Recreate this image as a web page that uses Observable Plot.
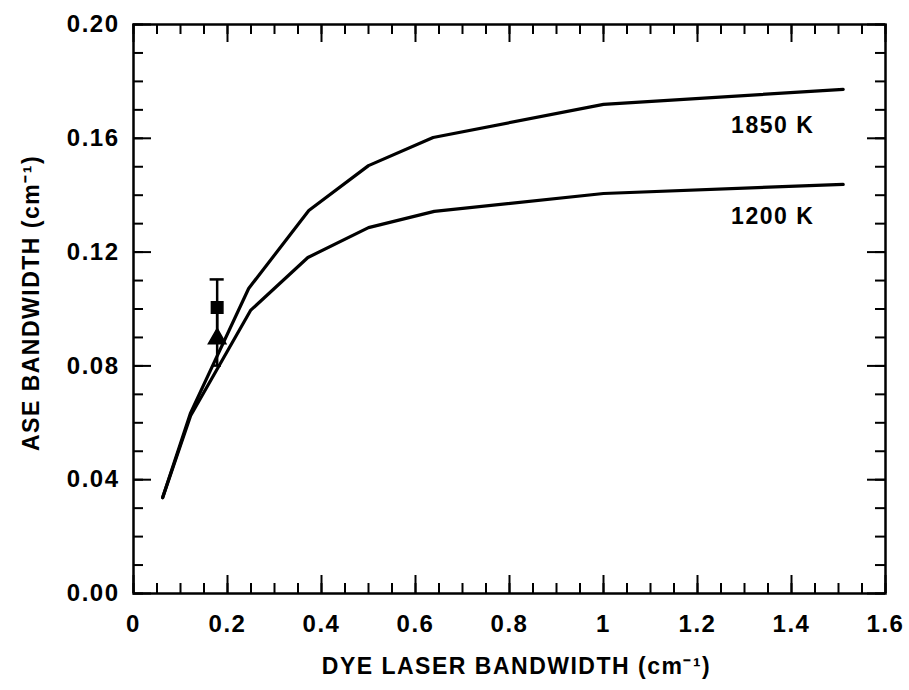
<!DOCTYPE html>
<html>
<head>
<meta charset="utf-8">
<script src="https://cdn.jsdelivr.net/npm/d3@7"></script>
<script src="https://cdn.jsdelivr.net/npm/@observablehq/plot@0.6"></script>
<style>
  html, body { margin: 0; padding: 0; background: #fff; }
  svg text { letter-spacing: 1.5px; }
</style>
</head>
<body>
<div id="chart"></div>
<script>
// Curve data (dye laser bandwidth, cm^-1)
const dyeBandwidth = [0.062, 0.1215, 0.245, 0.373, 0.5, 0.6375, 1.0, 1.51];
const ase1850 = [0.0337, 0.0635, 0.1072, 0.1346, 0.1504, 0.1603, 0.1719, 0.1772];
const dyeBandwidth1200 = [0.062, 0.1215, 0.249, 0.371, 0.5, 0.64, 1.0, 1.51];
const ase1200 = [0.0337, 0.0625, 0.0995, 0.1181, 0.1286, 0.1343, 0.1406, 0.1438];

// Measured points
const measX = [0.178, 0.178];
const measY = [0.1005, 0.0896];
const measSymbol = ["square", "triangle"];
const errLow = [0.0900, 0.0801];
const errHigh = [0.1104, 0.0990];

// Curve labels
const curveLabels = ["1850 K", "1200 K"];
const curveLabelX = [1.36, 1.36];
const curveLabelY = [0.1645, 0.1325];

// Axis ticks
const xMajor = [0, 0.2, 0.4, 0.6, 0.8, 1.0, 1.2, 1.4, 1.6];
const xMinor = d3.range(0, 33).map(i => i * 0.05);
const yMajor = [0, 0.04, 0.08, 0.12, 0.16, 0.2];
const yMinor = d3.range(0, 21).map(i => i * 0.01);

const W = 909, H = 690;
const mL = 133, mR = 24, mT = 24, mB = 97;
const pw = W - mL - mR, ph = H - mT - mB;
const majorLen = 18, minorLen = 10;

const curve1850 = dyeBandwidth.map((x, i) => ({x, y: ase1850[i]}));
const curve1200 = dyeBandwidth1200.map((x, i) => ({x, y: ase1200[i]}));
const meas = measX.map((x, i) => ({x, y: measY[i], s: measSymbol[i], lo: errLow[i], hi: errHigh[i]}));
const labels = curveLabels.map((t, i) => ({t, x: curveLabelX[i], y: curveLabelY[i]}));
const capHalf = 0.015;

const font = "'Liberation Sans', Arial, Helvetica, sans-serif";

const chart = Plot.plot({
  width: W, height: H,
  marginLeft: mL, marginRight: mR, marginTop: mT, marginBottom: mB,
  style: {fontFamily: font, fontWeight: "bold", color: "black", background: "white"},
  x: {domain: [0, 1.6]},
  y: {domain: [0, 0.2]},
  marks: [
    // inward ticks: bottom/top
    Plot.ruleX(xMinor, {insetTop: ph - minorLen, stroke: "black", strokeWidth: 2}),
    Plot.ruleX(xMinor, {insetBottom: ph - minorLen, stroke: "black", strokeWidth: 2}),
    Plot.ruleX(xMajor, {insetTop: ph - majorLen, stroke: "black", strokeWidth: 2}),
    Plot.ruleX(xMajor, {insetBottom: ph - majorLen, stroke: "black", strokeWidth: 2}),
    // inward ticks: left/right
    Plot.ruleY(yMinor, {insetRight: pw - minorLen, stroke: "black", strokeWidth: 2}),
    Plot.ruleY(yMinor, {insetLeft: pw - minorLen, stroke: "black", strokeWidth: 2}),
    Plot.ruleY(yMajor, {insetRight: pw - majorLen, stroke: "black", strokeWidth: 2}),
    Plot.ruleY(yMajor, {insetLeft: pw - majorLen, stroke: "black", strokeWidth: 2}),
    Plot.frame({stroke: "black", strokeWidth: 2.5}),
    Plot.axisX({ticks: xMajor, tickSize: 0, tickPadding: 21, fontSize: 24, fontWeight: "bold",
      tickFormat: d => String(+d.toFixed(1)), label: null}),
    Plot.axisY({ticks: yMajor, tickSize: 0, tickPadding: 14, fontSize: 24, fontWeight: "bold",
      tickFormat: d3.format(".2f"), label: null}),
    // curves
    Plot.line(curve1850, {x: "x", y: "y", stroke: "black", strokeWidth: 3.2}),
    Plot.line(curve1200, {x: "x", y: "y", stroke: "black", strokeWidth: 3.2}),
    // error bars
    Plot.ruleX(meas, {x: "x", y1: "lo", y2: "hi", stroke: "black", strokeWidth: 2.5}),
    Plot.ruleY([meas[0]], {y: "hi", x1: d => d.x - capHalf, x2: d => d.x + capHalf, stroke: "black", strokeWidth: 2.5}),
    Plot.ruleY([meas[1]], {y: "lo", x1: d => d.x - capHalf * 0.6, x2: d => d.x + capHalf * 0.6, stroke: "black", strokeWidth: 2.5}),
    Plot.dot(meas, {x: "x", y: "y", symbol: "s", r: 6.5, fill: "black", stroke: "black"}),
    // curve labels
    Plot.text(labels, {x: "x", y: "y", text: "t", fontSize: 23, fontWeight: "bold", fill: "black"}),
    // axis titles
    Plot.text(["DYE LASER BANDWIDTH (cm⁻¹)"], {frameAnchor: "bottom", dy: 80, dx: 7, fontSize: 23, fontWeight: "bold", fill: "black", textAnchor: "middle"}),
    Plot.text(["ASE BANDWIDTH (cm⁻¹)"], {frameAnchor: "left", dx: -102, dy: -6, rotate: -90, fontSize: 23, fontWeight: "bold", fill: "black", textAnchor: "middle"})
  ]
});
document.getElementById("chart").appendChild(chart);
</script>
</body>
</html>
